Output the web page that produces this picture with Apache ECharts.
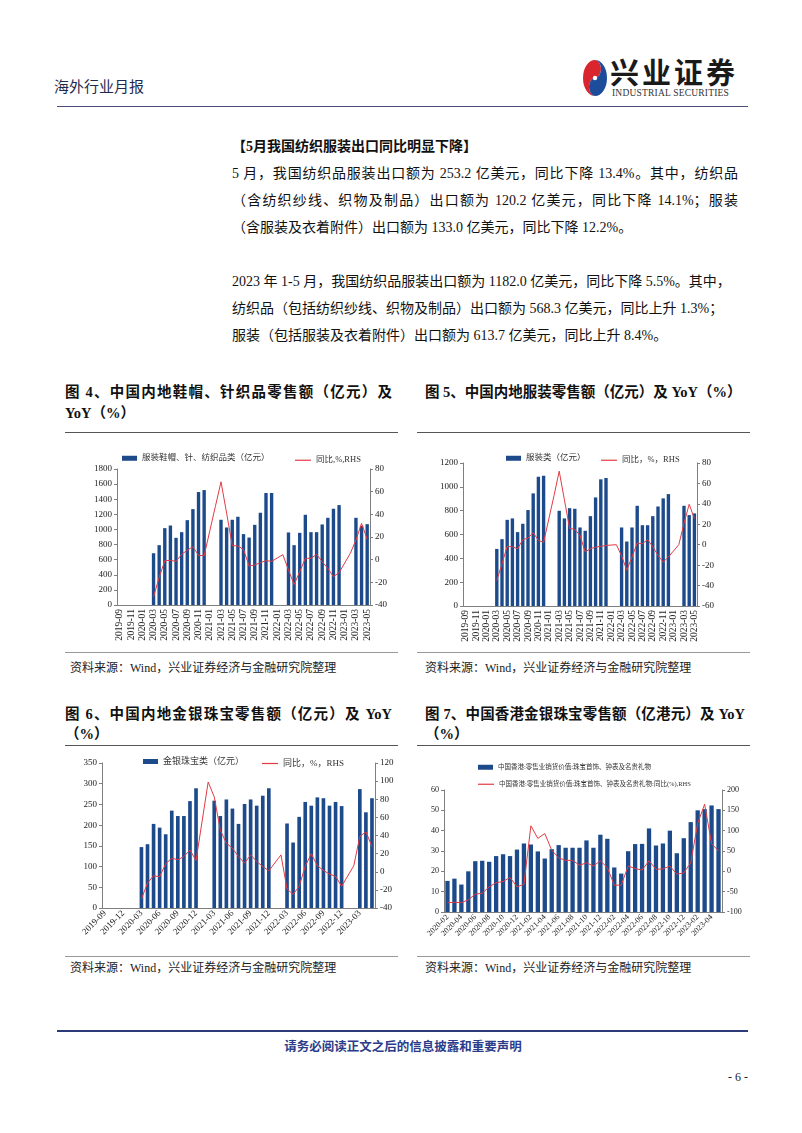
<!DOCTYPE html>
<html>
<head>
<meta charset="utf-8">
<script src="https://cdn.jsdelivr.net/npm/echarts@6/dist/echarts.min.js"></script>
<style>
body{margin:0;width:802px;height:1133px;position:relative;background:#fff;overflow:hidden;
  font-family:'Liberation Serif','Noto Sans CJK SC',serif;color:#111;}
.abs{position:absolute;white-space:nowrap;}
.hr{position:absolute;height:0;}
.para{position:absolute;left:232px;font-size:14px;line-height:20px;white-space:nowrap;}
.just{width:506px;white-space:normal;text-align:justify;text-align-last:justify;}
.ftitle{position:absolute;font-size:14.5px;font-weight:bold;line-height:20px;white-space:nowrap;}
.src{position:absolute;font-size:12px;line-height:16px;color:#222;white-space:nowrap;}
.chart{position:absolute;}
</style>
</head>
<body>

<!-- 页眉 -->
<div class="abs" style="left:54px;top:78px;font-size:15px;line-height:18px;color:#1f2a4d;">海外行业月报</div>
<svg class="abs" style="left:581px;top:58px;" width="28" height="40" viewBox="0 0 28 40">
  <path d="M14,2 A12,18 0 0,0 14,38 A6,9 0 0,1 14,20 A6,9 0 0,0 14,2 Z" fill="#d9262e"/>
  <path d="M14,2 A12,18 0 0,1 14,38 A6,9 0 0,1 14,20 A6,9 0 0,0 14,2 Z" fill="#1d4c9a"/>
  <circle cx="14" cy="20" r="2.2" fill="#fff"/>
</svg>
<div class="abs" style="left:610px;top:58px;font-size:29px;line-height:32px;font-weight:bold;letter-spacing:3px;color:#1a1a1a;">兴业证券</div>
<div class="abs" style="left:612px;top:88px;font-size:9.5px;line-height:11px;letter-spacing:0.2px;color:#333;">INDUSTRIAL SECURITIES</div>
<div class="hr" style="left:57px;top:106px;width:691px;border-top:1.5px solid #4b5078;"></div>

<!-- 正文 -->
<div class="para" style="top:137px;font-weight:bold;">【5月我国纺织服装出口同比明显下降】</div>
<div class="para just" style="top:164px;">5 月，我国纺织品服装出口额为 253.2 亿美元，同比下降 13.4%。其中，纺织品</div>
<div class="para just" style="top:191px;">（含纺织纱线、织物及制品）出口额为 120.2 亿美元，同比下降 14.1%；服装</div>
<div class="para" style="top:218px;">（含服装及衣着附件）出口额为 133.0 亿美元，同比下降 12.2%。</div>
<div class="para" style="top:272px;">2023 年 1-5 月，我国纺织品服装出口额为 1182.0 亿美元，同比下降 5.5%。其中，</div>
<div class="para" style="top:299px;">纺织品（包括纺织纱线、织物及制品）出口额为 568.3 亿美元，同比上升 1.3%；</div>
<div class="para" style="top:326px;">服装（包括服装及衣着附件）出口额为 613.7 亿美元，同比上升 8.4%。</div>

<!-- 图4 / 图5 标题 -->
<div class="ftitle" style="left:65px;top:382px;width:327px;white-space:normal;text-align:justify;text-align-last:justify;">图 4、中国内地鞋帽、针织品零售额（亿元）及</div>
<div class="ftitle" style="left:65px;top:403px;">YoY（%）</div>
<div class="ftitle" style="left:425px;top:382px;">图 5、中国内地服装零售额（亿元）及 YoY（%）</div>
<div class="hr" style="left:65px;top:432px;width:333px;border-top:1px solid #555;"></div>
<div class="hr" style="left:417px;top:432px;width:333px;border-top:1px solid #555;"></div>

<div id="c4" class="chart" style="left:60px;top:432px;width:340px;height:218px;"></div>
<div id="c5" class="chart" style="left:405px;top:432px;width:340px;height:218px;"></div>

<div class="hr" style="left:65px;top:652px;width:333px;border-top:1px solid #999;"></div>
<div class="hr" style="left:417px;top:652px;width:333px;border-top:1px solid #999;"></div>
<div class="src" style="left:70px;top:660px;">资料来源：Wind，兴业证券经济与金融研究院整理</div>
<div class="src" style="left:425px;top:660px;">资料来源：Wind，兴业证券经济与金融研究院整理</div>

<!-- 图6 / 图7 标题 -->
<div class="ftitle" style="left:65px;top:704px;width:327px;white-space:normal;text-align:justify;text-align-last:justify;">图 6、中国内地金银珠宝零售额（亿元）及 YoY</div>
<div class="ftitle" style="left:65px;top:724px;">（%）</div>
<div class="ftitle" style="left:425px;top:704px;width:320px;white-space:normal;text-align:justify;text-align-last:justify;">图 7、中国香港金银珠宝零售额（亿港元）及 YoY</div>
<div class="ftitle" style="left:425px;top:724px;">（%）</div>
<div class="hr" style="left:65px;top:745px;width:333px;border-top:1px solid #555;"></div>
<div class="hr" style="left:417px;top:745px;width:333px;border-top:1px solid #555;"></div>

<div id="c6" class="chart" style="left:60px;top:745px;width:340px;height:210px;"></div>
<div id="c7" class="chart" style="left:405px;top:745px;width:340px;height:210px;"></div>

<div class="hr" style="left:65px;top:956px;width:333px;border-top:1px solid #999;"></div>
<div class="hr" style="left:417px;top:956px;width:333px;border-top:1px solid #999;"></div>
<div class="src" style="left:70px;top:960px;">资料来源：Wind，兴业证券经济与金融研究院整理</div>
<div class="src" style="left:425px;top:960px;">资料来源：Wind，兴业证券经济与金融研究院整理</div>

<!-- 页脚 -->
<div class="hr" style="left:57px;top:1030px;width:691px;border-top:2px solid #2d3a78;"></div>
<div class="abs" style="left:0;width:806px;text-align:center;top:1039px;font-size:12.5px;line-height:16px;font-weight:bold;color:#2b3d8a;">请务必阅读正文之后的信息披露和重要声明</div>
<div class="abs" style="left:728px;top:1069px;font-size:12px;line-height:16px;color:#222;">- 6 -</div>

<script>
// 内地月度（2019-09 ~ 2023-05）
var monthsCN = ['2019-09','2019-10','2019-11','2019-12','2020-01','2020-02','2020-03','2020-04','2020-05','2020-06',
  '2020-07','2020-08','2020-09','2020-10','2020-11','2020-12','2021-01','2021-02','2021-03','2021-04',
  '2021-05','2021-06','2021-07','2021-08','2021-09','2021-10','2021-11','2021-12','2022-01','2022-02',
  '2022-03','2022-04','2022-05','2022-06','2022-07','2022-08','2022-09','2022-10','2022-11','2022-12',
  '2023-01','2023-02','2023-03','2023-04','2023-05'];
// 香港月度（2020-02 ~ 2023-05）
var monthsHK = ['2020-02','2020-03','2020-04','2020-05','2020-06','2020-07','2020-08','2020-09','2020-10','2020-11',
  '2020-12','2021-01','2021-02','2021-03','2021-04','2021-05','2021-06','2021-07','2021-08','2021-09',
  '2021-10','2021-11','2021-12','2022-01','2022-02','2022-03','2022-04','2022-05','2022-06','2022-07',
  '2022-08','2022-09','2022-10','2022-11','2022-12','2023-01','2023-02','2023-03','2023-04','2023-05'];

// 图4 服装鞋帽、针、纺织品类
var shoesHats = [null,null,null,null,null,null,685,792,1017,1052,889,964,1123,1269,1495,1521,null,null,
  1128,1026,1128,1168,938,893,1061,1221,1482,1482,null,null,
  960,792,955,1194,964,964,1066,1154,1274,1322,null,null,1154,1048,1070];
var shoesHatsYoY = [null,null,null,null,null,null,-32.7,-15.6,-0.9,-0.6,-1.5,4.7,8.3,11.5,3.8,3.5,null,47,
  68.7,41,12.4,12.1,9,-5.6,-4.7,-2.7,-0.9,-1.5,null,4.4,
  -9,-22,-10.6,1.2,1.2,4.7,-1.8,-7.7,-15,-11.5,null,5.6,17.4,32,18];

// 图5 服装类
var clothing = [null,null,null,null,null,null,479,561,723,735,620,690,805,945,1085,1093,null,null,
  799,735,821,816,659,631,754,911,1063,1074,null,null,
  659,541,659,841,678,678,754,835,903,939,null,null,841,763,777];
var clothingYoY = [null,null,null,null,null,null,-35,-18.6,-1.6,-2,-4,5,6.5,11.8,4.3,2.3,null,48,
  72,44,16,15,9,-7,-4,-2.3,-1.6,-0.7,null,0,
  -11,-25,-12,1.6,1,5,-2,-10.5,-17,-12,null,0,21,39.6,25.5];

// 图6 金银珠宝类
var jewelry = [null,null,null,null,null,null,147,154,203,194,178,235,222,222,258,289,null,null,
  259,222,262,240,203,251,262,247,271,289,null,null,
  204,158,220,256,247,267,265,247,256,246,null,null,287,231,265];
var jewelryYoY = [null,null,null,null,null,null,-30,-12.5,-4.4,-5.5,8.8,15,13.2,16.8,24,12.4,null,99,
  82.7,46,31.5,26,16.8,9.5,18.6,11.3,5.8,1,null,18.6,
  -19,-25,-16,6,20,6.6,1.5,-2.6,-5,-16,null,6.6,39,44,28];

// 图7 香港珠宝首饰、钟表及名贵礼物
var hkJewelry = [15.3,16.4,13.5,20,25,25.2,24.7,27.5,28.4,27.5,30.7,33.7,33.2,29.8,26.3,30.9,32.9,31.6,31.6,31.6,
  35.2,31.6,38,36,21.9,18.9,29.9,33.4,33.5,41.1,32.7,33.7,40,28.9,36.3,44.2,50,50.6,52.4,50.6];
var hkJewelryYoY = [-77,-76,-77,-70,-56,-54,-38,-28,-25,-15,-38,-32,112,81,93,52,33,27,27,15,
  21,13,26,9,-34,-34,13,7,3,26,5,6,13,-7,-4,21,118,165,68,50];

var FONT = "'Liberation Serif','Noto Sans CJK SC',serif";
var BAR_COLOR = '#1c4a8b';
var LINE_COLOR = '#e33b43';
var AXIS_COLOR = '#7f7f7f';

function makeOption(c) {
  var valueAxis = function (min, max, interval, pos) {
    return {
      type: 'value', position: pos, min: min, max: max, interval: interval,
      splitLine: { show: false },
      axisLine: { show: true, lineStyle: { color: AXIS_COLOR } },
      axisTick: { show: true, length: 3, lineStyle: { color: AXIS_COLOR } },
      axisLabel: { fontSize: c.fontSize, color: '#222', fontFamily: FONT, margin: 5,
        formatter: function (v) { return String(v); } }
    };
  };
  return {
    animation: false,
    textStyle: { fontFamily: FONT },
    legend: [
      { data: [{ name: c.barName, icon: 'rect' }], left: c.legBar[0], top: c.legBar[1],
        itemWidth: 15, itemHeight: 5,
        textStyle: { fontSize: c.legFont, color: '#333', fontFamily: FONT } },
      { data: [{ name: c.lineName, icon: 'rect' }], left: c.legLine[0], top: c.legLine[1],
        itemWidth: 16, itemHeight: 1.2,
        textStyle: { fontSize: c.legFont, color: '#333', fontFamily: FONT } }
    ],
    grid: { left: c.grid[0], top: c.grid[1], right: c.grid[2], bottom: c.grid[3] },
    xAxis: {
      type: 'category', data: c.cats,
      axisLine: { lineStyle: { color: AXIS_COLOR } },
      axisTick: { show: false },
      axisLabel: { interval: c.labelInterval, rotate: c.rotate, fontSize: c.xFont, color: '#222', margin: 4 }
    },
    yAxis: [valueAxis(c.left[0], c.left[1], c.left[2], 'left'),
            valueAxis(c.right[0], c.right[1], c.right[2], 'right')],
    series: [
      { name: c.barName, type: 'bar', data: c.bars, barWidth: c.barWidth,
        itemStyle: { color: BAR_COLOR } },
      { name: c.lineName, type: 'line', yAxisIndex: 1, data: c.yoy, connectNulls: true,
        symbol: 'none', lineStyle: { color: LINE_COLOR, width: 1 }, itemStyle: { color: LINE_COLOR } }
    ]
  };
}

var charts = [
  { id: 'c4', cats: monthsCN, bars: shoesHats, yoy: shoesHatsYoY,
    barName: '服装鞋帽、针、纺织品类（亿元）', lineName: '同比,%,RHS',
    grid: [57, 37, 30, 45], left: [0, 1800, 200], right: [-40, 80, 20],
    labelInterval: 1, rotate: 90, fontSize: 9, xFont: 9.5, barWidth: '60%',
    legFont: 8.5, legBar: [57, 17], legLine: [230, 19] },
  { id: 'c5', cats: monthsCN, bars: clothing, yoy: clothingYoY,
    barName: '服装类（亿元）', lineName: '同比，%，RHS',
    grid: [58, 31, 48, 44], left: [0, 1200, 200], right: [-60, 80, 20],
    labelInterval: 1, rotate: 90, fontSize: 9, xFont: 9.5, barWidth: '65%',
    legFont: 8.5, legBar: [96, 17], legLine: [191, 19] },
  { id: 'c6', cats: monthsCN, bars: jewelry, yoy: jewelryYoY,
    barName: '金银珠宝类（亿元）', lineName: '同比，%，RHS',
    grid: [42, 18, 25, 47], left: [0, 350, 50], right: [-40, 120, 20],
    labelInterval: 2, rotate: 45, fontSize: 9, xFont: 9, barWidth: '60%',
    legFont: 9, legBar: [78, 7], legLine: [197, 9] },
  { id: 'c7', cats: monthsHK, bars: hkJewelry, yoy: hkJewelryYoY,
    barName: '中国香港:零售业销货价值:珠宝首饰、钟表及名贵礼物',
    lineName: '中国香港:零售业销货价值:珠宝首饰、钟表及名贵礼物:同比(%),RHS',
    grid: [39, 45, 23, 43], left: [0, 60, 10], right: [-100, 200, 50],
    labelInterval: 1, rotate: 45, fontSize: 8, xFont: 8, barWidth: '62%',
    legFont: 6.5, legBar: [68, 14], legLine: [68, 31] }
];

charts.forEach(function (c) {
  var chart = echarts.init(document.getElementById(c.id), null, { renderer: 'canvas' });
  chart.setOption(makeOption(c));
});
</script>
</body>
</html>
